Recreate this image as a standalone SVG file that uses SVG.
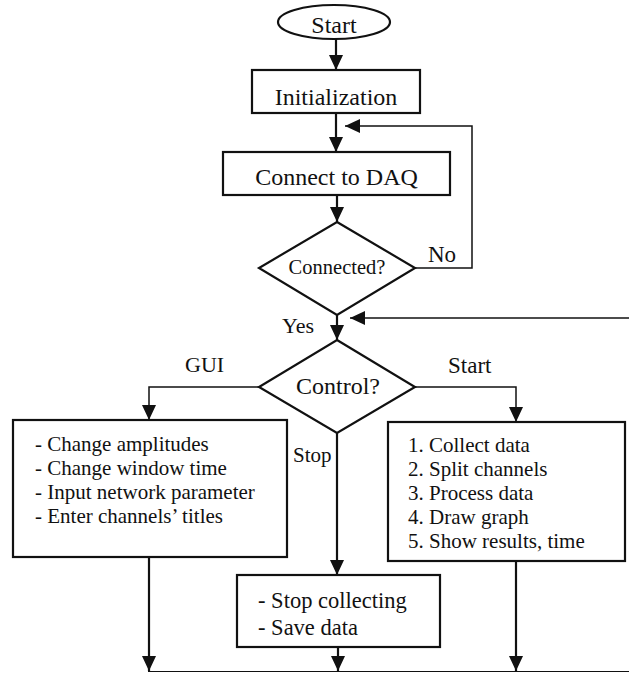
<svg xmlns="http://www.w3.org/2000/svg" width="629" height="674" viewBox="0 0 629 674">
<defs>
<marker id="ah" viewBox="0 0 15 14" refX="15" refY="7" markerWidth="15" markerHeight="14" markerUnits="userSpaceOnUse" orient="auto">
<path d="M0,0 L15,7 L0,14 z" fill="#111"/>
</marker>
<style>
.shape{fill:#fff;stroke:#111;stroke-width:2.2}
.t{font-family:'Liberation Serif','Times New Roman',serif;fill:#111}
.c{text-anchor:middle}
.con{fill:none;stroke:#111;stroke-width:2.2}
.thin{fill:none;stroke:#111;stroke-width:1.5}
</style>
</defs>
<rect width="629" height="674" fill="#fff"/>
<g id="connectors">
<line class="con" x1="336" y1="39" x2="336" y2="70" marker-end="url(#ah)"/>
<line class="con" x1="336" y1="113" x2="336" y2="152" marker-end="url(#ah)"/>
<line class="con" x1="337" y1="195" x2="337" y2="222" marker-end="url(#ah)"/>
<polyline class="thin" points="415,268 472,268 472,126 345,126" marker-end="url(#ah)"/>
<line class="con" x1="337" y1="315" x2="337" y2="340" marker-end="url(#ah)"/>
<line class="thin" x1="629" y1="318" x2="350" y2="318" marker-end="url(#ah)"/>
<polyline class="thin" points="259,387 149,387 149,420" marker-end="url(#ah)"/>
<polyline class="thin" points="415,387 516,387 516,422" marker-end="url(#ah)"/>
<line class="con" x1="337" y1="433" x2="337" y2="575" marker-end="url(#ah)"/>
<line class="con" x1="149" y1="557" x2="149" y2="671" marker-end="url(#ah)"/>
<line class="con" x1="338" y1="647" x2="338" y2="671" marker-end="url(#ah)"/>
<line class="con" x1="516" y1="561" x2="516" y2="671" marker-end="url(#ah)"/>
<line x1="148" y1="671.5" x2="629" y2="671.5" stroke="#111" stroke-width="1.2"/>
<text class="t" x="428" y="262" font-size="23">No</text>
<text class="t" x="282" y="333" font-size="22">Yes</text>
<text class="t" x="185" y="372" font-size="22">GUI</text>
<text class="t" x="448" y="373" font-size="23">Start</text>
<text class="t" x="293" y="462" font-size="21">Stop</text>
</g>
<g id="start">
<ellipse class="shape" cx="334" cy="22" rx="56" ry="17"/>
<text class="t c" x="334" y="33" font-size="24">Start</text>
</g>
<g id="init">
<rect class="shape" x="252" y="70" width="168" height="43"/>
<text class="t c" x="336" y="105" font-size="24">Initialization</text>
</g>
<g id="connect">
<rect class="shape" x="223" y="152" width="227" height="43"/>
<text class="t c" x="336.5" y="185" font-size="24">Connect to DAQ</text>
</g>
<g id="connected">
<polygon class="shape" points="337,222 415,268 337,315 259,268"/>
<text class="t c" x="337" y="274" font-size="20.5">Connected?</text>
</g>
<g id="control">
<polygon class="shape" points="337,340 415,387 337,433 259,387"/>
<text class="t c" x="338" y="394" font-size="24">Control?</text>
</g>
<g id="gui">
<rect class="shape" x="13" y="420" width="274" height="137"/>
<text class="t" x="35" y="451" font-size="21">- Change amplitudes</text>
<text class="t" x="35" y="475" font-size="21">- Change window time</text>
<text class="t" x="35" y="499" font-size="21">- Input network parameter</text>
<text class="t" x="35" y="523" font-size="21">- Enter channels’ titles</text>
</g>
<g id="process">
<rect class="shape" x="388" y="422" width="237" height="139"/>
<text class="t" x="408" y="452" font-size="21">1. Collect data</text>
<text class="t" x="408" y="476" font-size="21">2. Split channels</text>
<text class="t" x="408" y="500" font-size="21">3. Process data</text>
<text class="t" x="408" y="524" font-size="21">4. Draw graph</text>
<text class="t" x="408" y="548" font-size="21">5. Show results, time</text>
</g>
<g id="stop">
<rect class="shape" x="237" y="575" width="203" height="72"/>
<text class="t" x="258" y="608" font-size="22.5">- Stop collecting</text>
<text class="t" x="258" y="635" font-size="22.5">- Save data</text>
</g>
</svg>
